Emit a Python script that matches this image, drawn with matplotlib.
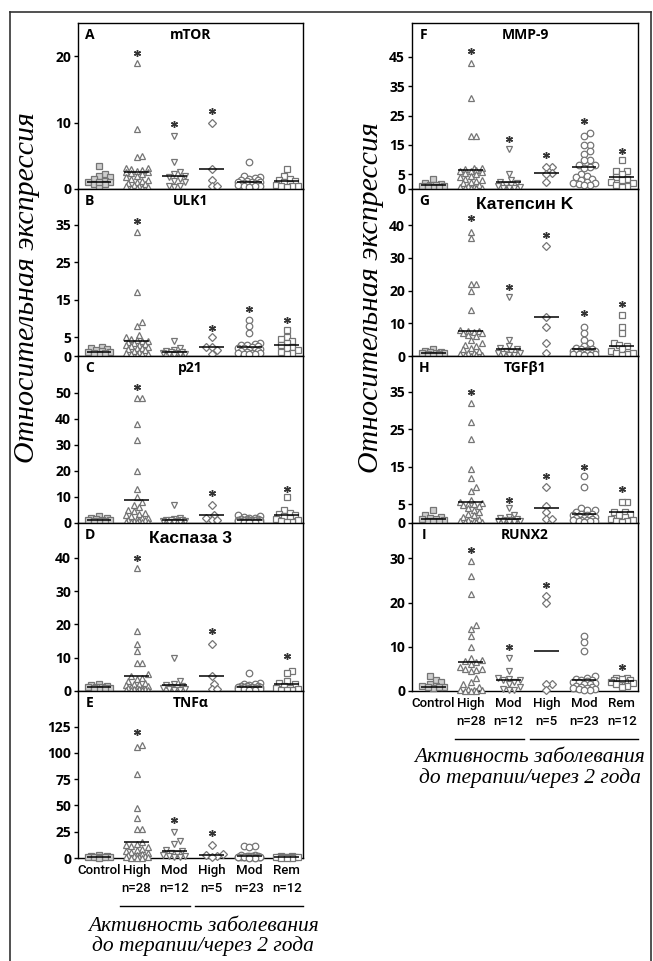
import numpy as np
import matplotlib.pyplot as plt
from matplotlib.lines import Line2D
from matplotlib.transforms import blended_transform_factory

W, H = 653, 961

groups = ['Control', 'High\nn=28', 'Mod\nn=12', 'High\nn=5', 'Mod\nn=23', 'Rem\nn=12']
markers = ['s', '^', 'v', 'D', 'o', 's']

# A - mTOR
mtor = [
    [3.5, 2.2, 2.0, 1.8, 1.5, 1.2, 1.0, 1.0, 0.8, 0.7, 0.5, 1.1],
    [19, 9, 5, 4.8, 3.2, 3.1, 3.0, 2.8, 2.7, 2.6, 2.5, 2.4, 2.2, 2.0, 1.8, 1.5, 1.4,
     1.2, 1.0, 0.9, 0.8, 0.6, 0.5, 0.4, 0.3, 0.2, 0.2, 0.1],
    [8, 4, 2.5, 2.2, 2.0, 1.8, 1.5, 1.2, 1.0, 0.5, 0.4, 0.3],
    [10, 3, 1.3, 0.4, 0.5],
    [4, 2, 1.8, 1.6, 1.5, 1.4, 1.3, 1.2, 1.1, 1.0, 1.0, 0.9, 0.9, 0.8, 0.8, 0.7, 0.7,
     0.6, 0.6, 0.5, 0.5, 0.4, 0.3],
    [3, 2, 1.5, 1.3, 1.2, 1.0, 0.8, 0.6, 0.5, 0.5, 0.4, 0.3],
]
mtor_med = [1.0, 2.6, 2.0, 3.0, 1.0, 1.2]
mtor_star = [None, 20.5, 9.8, 11.7, None, None]

# B - ULK1
ulk1 = [
    [2.5, 2.0, 1.8, 1.5, 1.2, 1.0, 0.8, 0.5, 1.1, 0.9],
    [33, 17, 9, 8, 5.5, 5, 4.5, 4.2, 4.1, 4, 3.8, 3.5, 3.2, 3, 2.8, 2.6, 2.5, 2.2, 2,
     1.8, 1.5, 1.2, 1, 0.8, 0.6, 0.5, 0.4, 0.3],
    [4, 2, 1.5, 1.2, 1.1, 1, 0.8, 0.7, 0.6, 0.5, 0.4, 0.3],
    [5, 2.5, 2.5, 1.5, 0.5],
    [9.5, 8, 6, 3.5, 3.2, 3, 2.8, 2.6, 2.5, 2.2, 2, 1.8, 1.7, 1.5, 1.3, 1.2, 1, 0.9,
     0.8, 0.7, 0.6, 0.5, 0.4],
    [7, 5, 4.5, 4, 3.5, 3, 2.5, 2, 1.5, 1, 0.8, 0.5],
]
ulk1_med = [1.0, 4.0, 1.0, 2.5, 2.5, 3.0]
ulk1_star = [None, 36, None, 7.5, 12.5, 9.5]

# C - p21
p21 = [
    [2.5, 2.0, 1.8, 1.5, 1.2, 1.0, 0.8, 0.6, 1.1, 0.9],
    [48, 48, 38, 32, 20, 13, 10, 8, 7, 6, 5, 4.5, 4, 3.5, 3, 2.5, 2, 1.8, 1.5, 1.2,
     1, 0.8, 0.6, 0.5, 0.4, 0.3, 0.2, 0.2],
    [7, 2, 1.5, 1.2, 1.1, 1, 0.8, 0.7, 0.6, 0.5, 0.4, 0.3],
    [7, 3, 2, 1, 1],
    [3, 2.5, 2.2, 2, 1.8, 1.6, 1.5, 1.4, 1.3, 1.2, 1.2, 1.1, 1, 1, 0.9, 0.8, 0.8,
     0.7, 0.6, 0.5, 0.5, 0.4, 0.3],
    [10, 5, 4, 3.5, 3, 2.5, 2, 1.5, 1, 0.8, 0.5, 0.4],
]
p21_med = [1.0, 9.0, 1.0, 3.0, 1.2, 3.0]
p21_star = [None, 52, None, 11.5, None, 13]

# D - Kaspaza 3
casp3 = [
    [2.0, 1.8, 1.5, 1.3, 1.2, 1.0, 0.8, 0.6, 1.1, 0.9],
    [37, 18, 14, 12, 8.5, 8.5, 5, 4.5, 4, 3.5, 3, 2.5, 2.2, 2, 1.8, 1.5, 1.2, 1, 0.9,
     0.8, 0.7, 0.6, 0.5, 0.4, 0.3, 0.2, 0.2, 0.1],
    [10, 3, 2, 1.8, 1.5, 1.2, 1, 0.8, 0.6, 0.5, 0.3, 0.2],
    [14, 4.5, 2, 0.5, 0.5],
    [5.5, 2.5, 2.2, 2, 1.8, 1.6, 1.5, 1.4, 1.3, 1.2, 1.2, 1.1, 1, 1, 0.9, 0.8, 0.8,
     0.7, 0.6, 0.5, 0.5, 0.4, 0.3],
    [6, 5.5, 3, 2.5, 2, 1.5, 1, 0.8, 0.5, 0.4, 0.3, 0.2],
]
casp3_med = [1.2, 4.5, 1.8, 4.5, 1.2, 2.2]
casp3_star = [None, 40, None, 18, None, 10.5]

# E - TNFa
tnfa = [
    [3, 2, 1.5, 1.2, 1, 1, 0.8, 0.6, 0.5, 0.4],
    [108, 106, 80, 48, 38, 28, 28, 15, 13, 12, 11, 10, 9, 8, 7, 6, 5, 4, 3, 2.5, 2,
     1.5, 1, 0.8, 0.5, 0.4, 0.3, 0.2],
    [25, 16, 13, 8, 7, 5, 4, 3, 2, 1.5, 1, 0.5],
    [12, 4, 3, 2, 1],
    [11, 11, 10, 3, 2.5, 2, 1.8, 1.6, 1.5, 1.4, 1.3, 1.2, 1.1, 1, 1, 0.9, 0.8, 0.7,
     0.6, 0.5, 0.5, 0.4, 0.3],
    [2, 1.5, 1.2, 1, 1, 0.8, 0.8, 0.6, 0.5, 0.4, 0.3, 0.2],
]
tnfa_med = [1.0, 15.0, 7.0, 3.0, 1.5, 0.8]
tnfa_star = [None, 120, 36, 24, None, None]

# F - MMP-9
mmp9 = [
    [3.5, 2, 1.8, 1.5, 1.2, 1, 0.8, 0.6, 1.1, 0.9],
    [43, 31, 18, 18, 7, 7, 6.8, 6.5, 6, 6, 5.8, 5.5, 5, 4.5, 4, 3.5, 3, 2.8, 2.5, 2,
     1.5, 1, 0.8, 0.6, 0.5, 0.4, 0.3, 0.2],
    [13.5, 5, 3, 2.5, 2, 1.5, 1.2, 1, 0.8, 0.5, 0.3, 0.2],
    [7.5, 7.5, 5.5, 5, 2.5],
    [19, 18, 15, 15, 13, 12, 10, 10, 8, 8, 7.5, 7, 5, 4.5, 4, 3.5, 3, 2.5, 2, 2, 1.8,
     1.5, 1.2],
    [10, 6, 6, 5, 4, 3.5, 3, 2.5, 2, 1.5, 1, 0.8],
]
mmp9_med = [1.2, 6.5, 2.5, 5.5, 7.5, 4.0]
mmp9_star = [None, 47, 17, 11.5, 23, 13]

# G - Katepsin K
ctsk = [
    [2, 1.5, 1.2, 1.1, 1, 0.9, 0.8, 0.6, 0.5, 0.4],
    [38, 36, 22, 22, 20, 14, 8, 7.5, 7.5, 7.2, 7, 7, 6.5, 6, 5, 4, 3.5, 3, 2.5, 2,
     1.5, 1, 0.8, 0.5, 0.4, 0.3, 0.2, 0.1],
    [18, 5, 3, 2.5, 2, 1.5, 1.2, 1, 0.8, 0.5, 0.3, 0.2],
    [33.5, 12, 9, 4, 1],
    [9, 7, 5, 4, 3, 2.5, 2.2, 2, 1.8, 1.6, 1.5, 1.4, 1.3, 1.2, 1.1, 1, 0.9, 0.8, 0.7,
     0.6, 0.5, 0.4, 0.3],
    [12.5, 9, 7, 4, 3.5, 3, 2, 1.5, 1, 0.8, 0.5, 0.3],
]
ctsk_med = [1.0, 7.5, 2.0, 12.0, 2.0, 3.0]
ctsk_star = [None, 42, 21, 37, 13, 16]

# H - TGFb1
tgfb1 = [
    [3.5, 2, 1.5, 1.2, 1, 1, 0.8, 0.6, 0.5, 0.4],
    [32, 27, 22.5, 14.5, 12, 9.5, 8.5, 6, 5.5, 5.2, 5, 5, 4.8, 4.5, 4, 3.5, 3, 2.5, 2,
     1.5, 1, 0.8, 0.5, 0.4, 0.3, 0.2, 0.2, 0.1],
    [4, 2, 1.5, 1.2, 1, 0.8, 0.7, 0.6, 0.5, 0.4, 0.3, 0.2],
    [9.6, 4.5, 3, 1, 1],
    [12.4, 9.5, 4, 3.5, 3.5, 3, 2.5, 2.5, 2.2, 2, 1.8, 1.6, 1.5, 1.4, 1.2, 1, 0.9, 0.8,
     0.7, 0.6, 0.5, 0.4, 0.3],
    [5.5, 5.5, 3, 2.8, 2.5, 2, 1.5, 1, 0.8, 0.5, 0.4, 0.3],
]
tgfb1_med = [1.0, 5.5, 1.0, 4.0, 2.5, 2.8]
tgfb1_star = [None, 35, 6, 12.5, 15, 9]

# I - RUNX2
runx2 = [
    [3.5, 2.5, 2, 1.5, 1.2, 1, 0.8, 0.6, 1.1, 0.9],
    [29.5, 26, 22, 15, 14, 12.5, 10, 7.5, 7, 6.8, 6.5, 6, 5.5, 5, 5, 4.8, 4.5, 3, 2,
     1.5, 0.8, 0.5, 0.3, 0.2, 0.2, 0.1, 0.1, 0.1],
    [7.5, 4.5, 3, 2.8, 2.5, 2.5, 2, 1.5, 0.5, 0.3, 0.2, 1.0],
    [21.5, 20, 1.5, 1.5, 0.2],
    [12.5, 11, 9, 3.5, 3, 2.8, 2.5, 2.5, 2.2, 2, 2, 1.8, 1.6, 1.5, 1.2, 1, 0.8, 0.7,
     0.6, 0.5, 0.4, 0.3, 0.2],
    [3, 3, 2.5, 2.5, 2.2, 2, 2, 1.8, 1.5, 1.2, 1, 2.8],
]
runx2_med = [1.0, 6.5, 2.5, 9.0, 2.5, 2.2]
runx2_star = [None, 32, 10, 24, None, 5.5]

panels_left = [
    ('A', 'mTOR', mtor, mtor_med, mtor_star, 25, [0, 10, 20], 10),
    ('B', 'ULK1', ulk1, ulk1_med, ulk1_star, 44.5, [0, 5, 15, 25, 35], 10),
    ('C', 'p21', p21, p21_med, p21_star, 64, [0, 10, 20, 30, 40, 50], 10),
    ('D', 'Каспаза 3', casp3, casp3_med, casp3_star, 50.5, [0, 10, 20, 30, 40], 12.5),
    ('E', 'TNFα', tnfa, tnfa_med, tnfa_star, 159, [0, 25, 50, 75, 100, 125], 10),
]
panels_right = [
    ('F', 'MMP-9', mmp9, mmp9_med, mmp9_star, 56.5, [0, 5, 15, 25, 35, 45], 10),
    ('G', 'Катепсин K', ctsk, ctsk_med, ctsk_star, 51, [0, 10, 20, 30, 40], 12.5),
    ('H', 'TGFβ1', tgfb1, tgfb1_med, tgfb1_star, 44.5, [0, 5, 15, 25, 35], 10),
    ('I', 'RUNX2', runx2, runx2_med, runx2_star, 38, [0, 10, 20, 30], 10),
]

XMIN, XMAX = -0.56, 5.43
row_edges = [23, 189, 356, 523, 691, 858]


def swarm(vals, ypx, xpx, diam=5.5, maxoff=13.0, step=2.75):
    # simple beeswarm: put each point at the nearest free horizontal slot
    vals = np.asarray(vals, float)
    cands = [0.0]
    k = 1
    while k * step <= maxoff:
        cands += [k * step, -k * step]
        k += 1
    placed = []
    offs = np.zeros(len(vals))
    for i in np.argsort(vals):
        y = vals[i] * ypx
        best = None
        for c in cands:
            if all((c - px) ** 2 + (y - py) ** 2 >= diam ** 2 for px, py in placed):
                best = c
                break
        if best is None:
            best = max(cands, key=lambda c: min((c - px) ** 2 + (y - py) ** 2
                                                for px, py in placed))
        placed.append((best, y))
        offs[i] = best / xpx
    return offs


fig = plt.figure(figsize=(W / 100, H / 100), dpi=100)

tick_font = 'Open Sans'
title_font = 'Open Sans'


def draw_panel(left, right, top, bottom, spec, last):
    letter, title, data, med, star, ymax, yticks, tsize = spec
    ax = fig.add_axes([left / W, 1 - bottom / H, (right - left) / W, (bottom - top) / H])
    ax.set_xlim(XMIN, XMAX)
    ax.set_ylim(0, ymax)
    ypx = (bottom - top) / ymax
    xpx = (right - left) / (XMAX - XMIN)
    for g, vals in enumerate(data):
        offs = swarm(vals, ypx, xpx)
        fc = '#cfcfcf' if g == 0 else 'white'
        ax.plot(g + offs, vals, linestyle='none', marker=markers[g],
                ms=4.7 if markers[g] != 'D' else 3.8,
                mfc=fc, mec='#757575', mew=0.9, clip_on=False, zorder=3)
        ax.hlines(med[g], g - 0.33, g + 0.33, color='black', lw=1.1, zorder=4)
        if star[g] is not None:
            ax.plot([g], [star[g]], marker=(6, 2, 0), ms=5, color='#333333', mew=1.0,
                    linestyle='none', zorder=4)
    ax.set_yticks(yticks)
    ax.set_yticklabels([str(t) for t in yticks], fontfamily=tick_font,
                       fontweight='bold', fontsize=10)
    ax.tick_params(axis='y', direction='out', length=3, width=1, pad=2)
    for s in ax.spines.values():
        s.set_linewidth(1.0)
    ax.text(0.053, 0.928, letter, transform=ax.transAxes, ha='center', va='center',
            fontfamily=title_font, fontweight='bold', fontsize=10)
    if tsize > 10:
        ax.text(0.5, 0.905, title, transform=ax.transAxes, ha='center', va='center',
                fontfamily='Liberation Sans', fontweight='bold', fontsize=tsize)
    else:
        ax.text(0.5, 0.928, title, transform=ax.transAxes, ha='center', va='center',
                fontfamily=title_font, fontweight='bold', fontsize=tsize)
    if last:
        ax.set_xticks(range(len(groups)))
        ax.set_xticklabels(groups, fontfamily='Roboto', fontweight='medium',
                           fontsize=9.5, linespacing=1.5)
        ax.tick_params(axis='x', length=0, pad=4)
        tr = blended_transform_factory(ax.transData, ax.transAxes)
        for x0, x1 in [(0.57, 2.42), (2.56, 5.42)]:
            ax.add_line(Line2D([x0, x1], [-0.285, -0.285], transform=tr, color='black',
                               lw=1.0, clip_on=False))
    else:
        ax.set_xticks([])
    return ax


bottom_text = 'Активность заболевания\nдо терапии/через 2 года'

for i, spec in enumerate(panels_left):
    ax = draw_panel(78, 303, row_edges[i], row_edges[i + 1], spec, i == len(panels_left) - 1)
    if i == len(panels_left) - 1:
        ax.text(0.556, -0.47, bottom_text, transform=ax.transAxes, ha='center', va='center',
                fontfamily='Liberation Serif', style='italic', fontsize=15.5, linespacing=1.05)

for i, spec in enumerate(panels_right):
    ax = draw_panel(412, 638, row_edges[i], row_edges[i + 1], spec, i == len(panels_right) - 1)
    if i == len(panels_right) - 1:
        ax.text(0.522, -0.46, bottom_text, transform=ax.transAxes, ha='center', va='center',
                fontfamily='Liberation Serif', style='italic', fontsize=15.5, linespacing=1.05)

# y labels
fig.text(40 / W, 1 - 288 / H, 'Относительная экспрессия', rotation=90, ha='right',
         va='center', fontfamily='Liberation Serif', style='italic', fontsize=21.5)
fig.text(384 / W, 1 - 298 / H, 'Относительная экспрессия', rotation=90, ha='right',
         va='center', fontfamily='Liberation Serif', style='italic', fontsize=21.5)

# outer frame
fig.add_artist(Line2D([10 / W, 10 / W], [0, 1 - 12 / H], transform=fig.transFigure, color='#333333', lw=1.2))
fig.add_artist(Line2D([10 / W, 651 / W], [1 - 12 / H, 1 - 12 / H], transform=fig.transFigure, color='#333333', lw=1.2))
fig.add_artist(Line2D([651 / W, 651 / W], [0, 1 - 12 / H], transform=fig.transFigure, color='#333333', lw=1.2))

fig.savefig('out.png', dpi=100)
